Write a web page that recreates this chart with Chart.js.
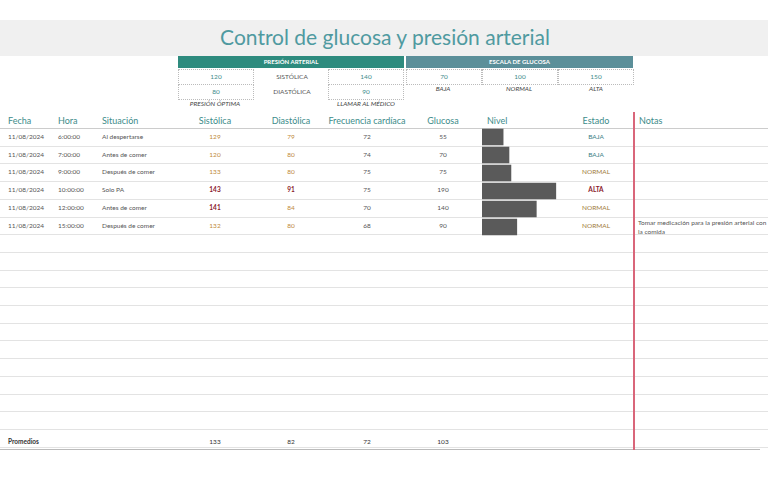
<!DOCTYPE html>
<html><head><meta charset="utf-8">
<script src="https://cdn.jsdelivr.net/npm/chart.js@4"></script>
<style>
body{margin:0;width:768px;height:480px;background:#fff;font-family:Lato,sans-serif;position:relative;overflow:hidden;color:#555}
.a{position:absolute;white-space:nowrap}
.t{font-size:6.5px}
.c{transform:translateX(-50%)}
.h{font-size:9px;color:#3d8c8a}
.box{position:absolute;border:1px dotted #bbb;height:14px;font-size:6.5px;text-align:center;line-height:14px;color:#3d8c8a}
.line{position:absolute;left:0;width:633px;height:1px;background:#e3e3e3}
.line2{position:absolute;left:635px;width:133px;height:1px;background:#e3e3e3}
</style></head><body>
<div class="a" style="left:0;top:20px;width:768px;height:36px;background:#f0f0f0"></div>
<div class="a c" style="left:385px;top:24px;font-size:21px;color:#4f9aa0">Control de glucosa y presión arterial</div>
<div class="a" style="left:178px;top:56px;width:226px;height:12px;background:#2e8b7e;color:#fff;font-size:6px;font-weight:bold;text-align:center;line-height:12px">PRESIÓN ARTERIAL</div>
<div class="a" style="left:406px;top:56px;width:227px;height:12px;background:#5b8f99;color:#fff;font-size:6px;font-weight:bold;text-align:center;line-height:12px">ESCALA DE GLUCOSA</div>
<div id="top"></div>
<div id="grid"></div>
<div class="a" style="left:633px;top:112px;width:2px;height:338px;background:#d9667a;z-index:5"></div>
<div class="a" style="left:482px;top:128px;width:80px;height:108px"><canvas id="nivel"></canvas></div>
<script>
const fechas = ["11/08/2024","11/08/2024","11/08/2024","11/08/2024","11/08/2024","11/08/2024"];
const horas = ["6:00:00","7:00:00","9:00:00","10:00:00","12:00:00","15:00:00"];
const situaciones = ["Al despertarse","Antes de comer","Después de comer","Solo PA","Antes de comer","Después de comer"];
const sistolica = [129,120,133,143,141,132];
const diastolica = [79,80,80,91,84,80];
const frecuencia = [72,74,75,75,70,68];
const glucosa = [55,70,75,190,140,90];
const estados = ["BAJA","BAJA","NORMAL","ALTA","NORMAL","NORMAL"];
const notas = ["","","","","","Tomar medicación para la presión arterial con"];

let html = "";
const boxes = [[178,69,"120"],[292,69,"SISTÓLICA",1],[328,69,"140"],[178,84,"80"],[292,84,"DIASTÓLICA",1],[328,84,"90"],
  [406,69,"70"],[482,69,"100"],[558,69,"150"]];
boxes.forEach(b => {
  if (b[3]) html += `<div class="a t c" style="left:${b[0]}px;top:${b[1]+4}px;color:#555">${b[2]}</div>`;
  else html += `<div class="box" style="left:${b[0]}px;top:${b[1]}px;width:74px">${b[2]}</div>`;
});
[[215,100,"PRESIÓN ÓPTIMA"],[366,100,"LLAMAR AL MÉDICO"],[443,85,"BAJA"],[519,85,"NORMAL"],[596,85,"ALTA"]].forEach(l => {
  html += `<div class="a t c" style="left:${l[0]}px;top:${l[1]}px;font-style:italic;color:#444">${l[2]}</div>`;
});
document.getElementById("top").innerHTML = html;

html = "";
[[8,"Fecha"],[58,"Hora"],[102,"Situación"],[487,"Nivel"],[639,"Notas"]].forEach(h => html += `<div class="a h" style="left:${h[0]}px;top:115px">${h[1]}</div>`);
[[215,"Sistólica"],[291,"Diastólica"],[367,"Frecuencia cardíaca"],[443,"Glucosa"],[596,"Estado"]].forEach(h => html += `<div class="a h c" style="left:${h[0]}px;top:115px">${h[1]}</div>`);
html += `<div class="line" style="top:128px;background:#ccc"></div><div class="line2" style="top:128px;background:#ccc"></div>`;
const rowH = 17.7;
for (let i = 0; i < 18; i++) {
  const y = 128 + rowH * (i + 1);
  html += `<div class="line" style="top:${y}px"></div><div class="line2" style="top:${y}px"></div>`;
}
for (let i = 0; i < fechas.length; i++) {
  const y = 133 + rowH * i;
  const sc = sistolica[i] >= 140 ? "font-weight:bold;font-size:6.5px;color:#8b1a2b" : "color:#c08a3a";
  const dc = diastolica[i] >= 90 ? "font-weight:bold;font-size:6.5px;color:#8b1a2b" : "color:#c08a3a";
  html += `<div class="a t" style="left:8px;top:${y}px">${fechas[i]}</div>`;
  html += `<div class="a t" style="left:58px;top:${y}px">${horas[i]}</div>`;
  html += `<div class="a t" style="left:102px;top:${y}px">${situaciones[i]}</div>`;
  html += `<div class="a t c" style="left:215px;top:${y}px;${sc}">${sistolica[i]}</div>`;
  html += `<div class="a t c" style="left:291px;top:${y}px;${dc}">${diastolica[i]}</div>`;
  html += `<div class="a t c" style="left:367px;top:${y}px">${frecuencia[i]}</div>`;
  html += `<div class="a t c" style="left:443px;top:${y}px">${glucosa[i]}</div>`;
  const ec = estados[i] === "ALTA" ? "color:#8b1a2b;font-weight:bold" : (estados[i] === "BAJA" ? "color:#3d7f86" : "color:#a07a3a");
  html += `<div class="a t c" style="left:596px;top:${y}px;${ec}">${estados[i]}</div>`;
  if (notas[i]) html += `<div class="a t" style="left:638px;top:${y-4}px;line-height:9px">${notas[i]}<br>la comida</div>`;
}
const avg = a => Math.round(a.reduce((s, v) => s + v, 0) / a.length);
const yA = 438;
html += `<div class="a t" style="left:8px;top:${yA}px;color:#333;font-weight:bold">Promedios</div>`;
[[215,sistolica],[291,diastolica],[367,frecuencia],[443,glucosa]].forEach(p => html += `<div class="a t c" style="left:${p[0]}px;top:${yA}px;color:#333">${avg(p[1])}</div>`);
html += `<div class="a" style="left:0;top:449px;width:760px;height:1px;background:#bbb"></div>`;
document.getElementById("grid").innerHTML = html;

new Chart(document.getElementById("nivel"), {
  type: "bar",
  data: {
    labels: horas,
    datasets: [{ data: glucosa, backgroundColor: "#5a5a5a", barPercentage: 1, categoryPercentage: 0.92 }]
  },
  options: {
    indexAxis: "y",
    responsive: true,
    maintainAspectRatio: false,
    animation: false,
    layout: { padding: 0 },
    plugins: { legend: { display: false }, tooltip: { enabled: false } },
    scales: {
      x: { display: false, min: 0, max: 205 },
      y: { display: false }
    }
  }
});
</script>
</body></html>
